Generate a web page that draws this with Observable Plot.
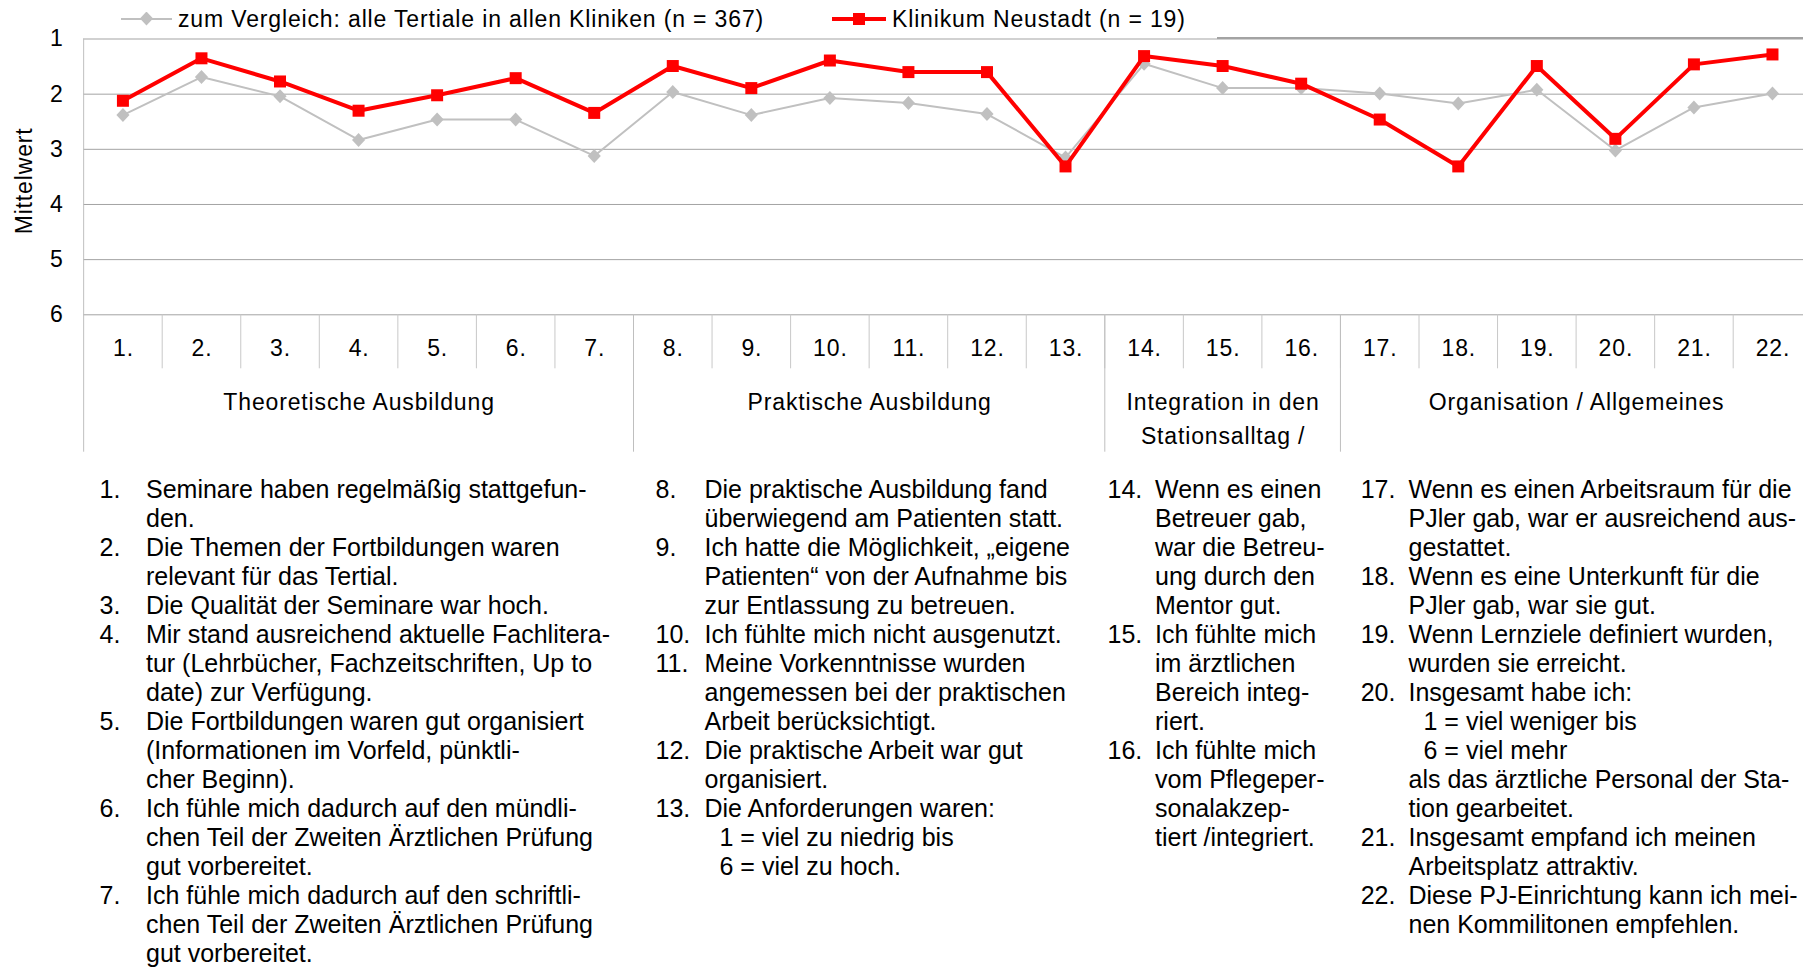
<!DOCTYPE html>
<html>
<head>
<meta charset="utf-8">
<script src="https://cdn.jsdelivr.net/npm/d3@7"></script>
<script src="https://cdn.jsdelivr.net/npm/@observablehq/plot@0.6"></script>
<style>
  html, body { margin: 0; padding: 0; background: #fff; overflow: hidden; }
  #page { position: relative; width: 1803px; height: 967px; font-family: "Liberation Sans", Arial, sans-serif; color: #000; }
  .leg { position: absolute; top: 6.5px; height: 24px; line-height: 24px; display: flex; align-items: center; font-size: 23px; letter-spacing: 0.85px; white-space: nowrap; }
  .sw { position: relative; height: 24px; margin-right: 6px; }
  .sw .ln { position: absolute; left: 0; right: 0; }
  .sw .mk { position: absolute; }
  .legbox { position: absolute; left: 1217px; top: 37px; width: 586px; height: 2px; background: #a3a3a3; }
  .col { position: absolute; top: 474.5px; font-size: 25px; line-height: 29px; white-space: nowrap; }
  .item { display: flex; }
  .num { flex: none; }
  .sub { padding-left: 15px; }
</style>
</head>
<body>
<div id="page"></div>
<script>
// ---------- data ----------
const categories = ["1.", "2.", "3.", "4.", "5.", "6.", "7.", "8.", "9.", "10.", "11.",
  "12.", "13.", "14.", "15.", "16.", "17.", "18.", "19.", "20.", "21.", "22."];
const alleKliniken = [2.38, 1.69, 2.04, 2.83, 2.46, 2.46, 3.12, 1.96, 2.38, 2.07, 2.16,
  2.36, 3.15, 1.45, 1.89, 1.89, 1.99, 2.17, 1.92, 3.02, 2.24, 1.99];
const neustadt = [2.12, 1.35, 1.77, 2.30, 2.02, 1.71, 2.34, 1.49, 1.89, 1.39, 1.60,
  1.60, 3.31, 1.31, 1.49, 1.81, 2.46, 3.31, 1.49, 2.81, 1.46, 1.28];
const yTicks = [1, 2, 3, 4, 5, 6];
const groupNames = ["Theoretische Ausbildung", "Praktische Ausbildung",
  "Integration in den\nStationsalltag /", "Organisation / Allgemeines"];
const groupFirst = [1, 8, 14, 17];
const groupLast = [7, 13, 16, 22];
const seriesNames = ["zum Vergleich: alle Tertiale in allen Kliniken (n = 367)", "Klinikum Neustadt (n = 19)"];
const yLabel = "Mittelwert";

// notes: lines beginning with "\t" are indented sub-lines
const notesCol1 = [
  ["1.", ["Seminare haben regelmäßig stattgefun-", "den."]],
  ["2.", ["Die Themen der Fortbildungen waren", "relevant für das Tertial."]],
  ["3.", ["Die Qualität der Seminare war hoch."]],
  ["4.", ["Mir stand ausreichend aktuelle Fachlitera-", "tur (Lehrbücher, Fachzeitschriften, Up to", "date) zur Verfügung."]],
  ["5.", ["Die Fortbildungen waren gut organisiert", "(Informationen im Vorfeld, pünktli-", "cher Beginn)."]],
  ["6.", ["Ich fühle mich dadurch auf den mündli-", "chen Teil der Zweiten Ärztlichen Prüfung", "gut vorbereitet."]],
  ["7.", ["Ich fühle mich dadurch auf den schriftli-", "chen Teil der Zweiten Ärztlichen Prüfung", "gut vorbereitet."]]
];
const notesCol2 = [
  ["8.", ["Die praktische Ausbildung fand", "überwiegend am Patienten statt."]],
  ["9.", ["Ich hatte die Möglichkeit, „eigene", "Patienten“ von der Aufnahme bis", "zur Entlassung zu betreuen."]],
  ["10.", ["Ich fühlte mich nicht ausgenutzt."]],
  ["11.", ["Meine Vorkenntnisse wurden", "angemessen bei der praktischen", "Arbeit berücksichtigt."]],
  ["12.", ["Die praktische Arbeit war gut", "organisiert."]],
  ["13.", ["Die Anforderungen waren:", "\t1 = viel zu niedrig bis", "\t6 = viel zu hoch."]]
];
const notesCol3 = [
  ["14.", ["Wenn es einen", "Betreuer gab,", "war die Betreu-", "ung durch den", "Mentor gut."]],
  ["15.", ["Ich fühlte mich", "im ärztlichen", "Bereich integ-", "riert."]],
  ["16.", ["Ich fühlte mich", "vom Pflegeper-", "sonalakzep-", "tiert /integriert."]]
];
const notesCol4 = [
  ["17.", ["Wenn es einen Arbeitsraum für die", "PJler gab, war er ausreichend aus-", "gestattet."]],
  ["18.", ["Wenn es eine Unterkunft für die", "PJler gab, war sie gut."]],
  ["19.", ["Wenn Lernziele definiert wurden,", "wurden sie erreicht."]],
  ["20.", ["Insgesamt habe ich:", "\t1 = viel weniger bis", "\t6 = viel mehr", "als das ärztliche Personal der Sta-", "tion gearbeitet."]],
  ["21.", ["Insgesamt empfand ich meinen", "Arbeitsplatz attraktiv."]],
  ["22.", ["Diese PJ-Einrichtung kann ich mei-", "nen Kommilitonen empfehlen."]]
];

// ---------- chart ----------
const GREY = "#c0c0c0", RED = "#ff0000";
const diamondSym = {draw(ctx, size) { const r = Math.sqrt(size / Math.PI);
  ctx.moveTo(0, -r); ctx.lineTo(r * 0.94, 0); ctx.lineTo(0, r); ctx.lineTo(-r * 0.94, 0); ctx.closePath(); }};
const squareSym = {draw(ctx, size) { const r = Math.sqrt(size / Math.PI);
  ctx.rect(-r, -r, 2 * r, 2 * r); }};

const pos = (d, i) => i + 1;
const W = 1803, H = 460, mT = 38.5, mB = 145.7, mL = 83.15;
const frameH = H - mT - mB;
const catDividers = categories.slice(1).map((d, i) => i + 1.5);
const groupDividers = groupFirst.slice(1).map(d => d - 0.5);

const chart = Plot.plot({
  width: W, height: H,
  marginTop: mT, marginBottom: mB, marginLeft: mL, marginRight: 0,
  x: {type: "linear", domain: [0.5, 22.5], range: [mL, mL + 22 * 78.55], axis: null},
  y: {domain: [1, 6], range: [mT, H - mB], axis: null},
  style: {fontFamily: "'Liberation Sans', Arial, sans-serif", fontSize: "23px", letterSpacing: "0.85px",
          color: "#000", background: "#fff", overflow: "hidden", position: "absolute", left: "0px", top: "0px"},
  marks: [
    Plot.ruleY(yTicks, {y: d => d, stroke: "#a3a3a3", strokeWidth: 1}),
    Plot.ruleX([groupFirst[0] - 0.5], {x: d => d, stroke: "#bfbfbf", insetBottom: -137.4}),
    Plot.ruleX(catDividers, {x: d => d, stroke: "#c8c8c8", insetTop: frameH, insetBottom: -54}),
    Plot.ruleX(groupDividers, {x: d => d, stroke: "#bfbfbf", insetTop: frameH, insetBottom: -137.4}),
    Plot.text(yTicks, {y: d => d, text: d => String(d), frameAnchor: "left", textAnchor: "end", dx: -20}),
    Plot.text([yLabel], {frameAnchor: "left", textAnchor: "middle", text: d => d, rotate: -90, dx: -59, dy: 4}),
    Plot.text(categories, {x: pos, text: d => d, frameAnchor: "bottom", dy: 41.5, dx: 0.5}),
    Plot.text(groupNames, {x: (d, i) => (groupFirst[i] + groupLast[i]) / 2, text: d => d,
      frameAnchor: "bottom", lineAnchor: "top", dy: 72, dx: 0.5, lineHeight: 1.45}),
    Plot.line(alleKliniken, {x: pos, y: d => d, stroke: GREY, strokeWidth: 2}),
    Plot.dot(alleKliniken, {x: pos, y: d => d, symbol: diamondSym, r: 7, fill: GREY, stroke: "none"}),
    Plot.line(neustadt, {x: pos, y: d => d, stroke: RED, strokeWidth: 4}),
    Plot.dot(neustadt, {x: pos, y: d => d, symbol: squareSym, r: 6, fill: RED, stroke: "none"})
  ]
});
const page = document.getElementById("page");
page.appendChild(chart);

// ---------- legend ----------
function legendItem(left, swW, lineH, color, markHTML, label) {
  const el = document.createElement("div");
  el.className = "leg";
  el.style.left = left + "px";
  el.innerHTML = `<div class="sw" style="width:${swW}px"><div class="ln" style="top:${12 - lineH / 2}px;height:${lineH}px;background:${color}"></div>${markHTML}</div><span>${label}</span>`;
  page.appendChild(el);
}
legendItem(121, 51, 2, GREY,
  `<div class="mk" style="left:${25.5 - 6.6}px;top:5px;width:13.2px;height:14px;background:${GREY};clip-path:polygon(50% 0,100% 50%,50% 100%,0 50%)"></div>`,
  seriesNames[0]);
legendItem(832, 54, 4, RED,
  `<div class="mk" style="left:21px;top:6px;width:12px;height:12px;background:${RED}"></div>`,
  seriesNames[1]);
const box = document.createElement("div");
box.className = "legbox";
page.appendChild(box);

// ---------- notes ----------
function notesColumn(items, left, numW) {
  const col = document.createElement("div");
  col.className = "col";
  col.style.left = left + "px";
  for (const [num, lines] of items) {
    const it = document.createElement("div");
    it.className = "item";
    const n = document.createElement("span");
    n.className = "num"; n.style.width = numW + "px"; n.textContent = num;
    const t = document.createElement("div");
    for (const l of lines) {
      const ld = document.createElement("div");
      if (l.startsWith("\t")) { ld.className = "sub"; ld.textContent = l.slice(1); }
      else ld.textContent = l;
      t.appendChild(ld);
    }
    it.appendChild(n); it.appendChild(t);
    col.appendChild(it);
  }
  page.appendChild(col);
}
notesColumn(notesCol1, 99.6, 46.4);
notesColumn(notesCol2, 655.5, 49);
notesColumn(notesCol3, 1107.5, 47.5);
notesColumn(notesCol4, 1360.7, 47.8);
</script>
</body>
</html>
